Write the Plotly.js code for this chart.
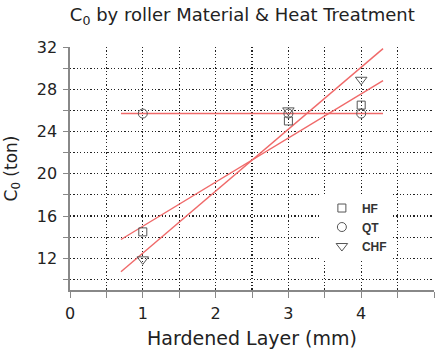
<!DOCTYPE html>
<html><head><meta charset="utf-8">
<script src="https://cdn.plot.ly/plotly-3.0.1.min.js"></script>
<style>html,body{margin:0;padding:0;background:#fff}#chart{width:439px;height:351px}</style>
</head><body><div id="chart"></div>
<script>
const layers = [1, 3, 4];
const seriesNames = ['HF', 'QT', 'CHF'];
const hfValues = [14.5, 25.0, 26.5];
const qtValues = [25.7, 25.7, 25.7];
const chfValues = [11.9, 26.0, 28.9];
const yTickVals = [12, 16, 20, 24, 28, 32];
const xTickVals = [0, 1, 2, 3, 4, 5];
const fitRange = [0.7, 4.3];

function fit(xs, ys) {
  const n = xs.length;
  const mx = xs.reduce((a, b) => a + b, 0) / n;
  const my = ys.reduce((a, b) => a + b, 0) / n;
  let sxy = 0, sxx = 0;
  for (let i = 0; i < n; i++) { sxy += (xs[i] - mx) * (ys[i] - my); sxx += (xs[i] - mx) ** 2; }
  const b = sxy / sxx, a = my - b * mx;
  return fitRange.map(x => a + b * x);
}

const allValues = [hfValues, qtValues, chfValues];
const symbols = ['square-open', 'circle-open', 'triangle-down-open'];
const sizes = [8, 9, 10];
const traces = [];
allValues.forEach((vals, i) => {
  traces.push({x: fitRange, y: fit(layers, vals), mode: 'lines', showlegend: false,
    line: {color: 'rgb(240,105,105)', width: 1.4}, hoverinfo: 'skip'});
});
allValues.forEach((vals, i) => {
  traces.push({x: layers, y: vals, mode: 'markers', name: seriesNames[i],
    marker: {symbol: symbols[i], size: sizes[i], color: '#555', line: {width: 1, color: '#555'}}});
});

const FONT = 'DejaVu Sans, Noto Sans, sans-serif';
const axisFont = {family: FONT, size: 16, color: '#222'};
const gridStyle = {gridcolor: '#222', griddash: '1.2px,2.2px', gridwidth: 1.1};
const layout = {
  width: 439, height: 351,
  margin: {l: 70, r: 5, t: 47, b: 61},
  paper_bgcolor: '#fff', plot_bgcolor: '#fff',
  title: {text: 'C<sub>0</sub> by roller Material &amp; Heat Treatment', x: 0.552, xanchor: 'center', y: 0.957, yanchor: 'middle',
    font: {family: FONT, size: 18, color: '#222'}},
  xaxis: Object.assign({range: [0, 5], tickvals: xTickVals, ticktext: xTickVals.map(String), showline: true, linecolor: '#888', linewidth: 1.6,
    ticks: 'outside', ticklen: 6, tickcolor: '#888', zeroline: false, showgrid: true, ticklabelstandoff: 2,
    minor: Object.assign({dtick: 0.5, tick0: 0, showgrid: true, ticks: 'outside', ticklen: 6, tickcolor: '#888'}, gridStyle),
    tickfont: axisFont,
    title: {text: 'Hardened Layer (mm)', font: {family: FONT, size: 19, color: '#222'}, standoff: 10}}, gridStyle),
  yaxis: Object.assign({range: [9, 32], tickvals: yTickVals, ticktext: yTickVals.map(String), showline: true, linecolor: '#888', linewidth: 1.6,
    ticks: 'outside', ticklen: 5, tickcolor: '#888', zeroline: false, showgrid: true, ticklabelstandoff: 3,
    minor: Object.assign({dtick: 2, tick0: 0, showgrid: true, ticks: 'outside', ticklen: 5, tickcolor: '#888'}, gridStyle),
    tickfont: axisFont,
    title: {text: 'C<sub>0</sub> (ton)', font: {family: FONT, size: 17, color: '#222'}, standoff: 15}}, gridStyle),
  legend: {x: 0.692, y: 0.397, xanchor: 'left', yanchor: 'top', bgcolor: '#fff',
    font: {family: 'Liberation Sans, Arial, sans-serif', size: 12, color: '#333', weight: 'bold'},
    tracegroupgap: 0, itemwidth: 30},
  showlegend: true
};
Plotly.newPlot('chart', traces, layout, {displayModeBar: false, staticPlot: true});
</script></body></html>
